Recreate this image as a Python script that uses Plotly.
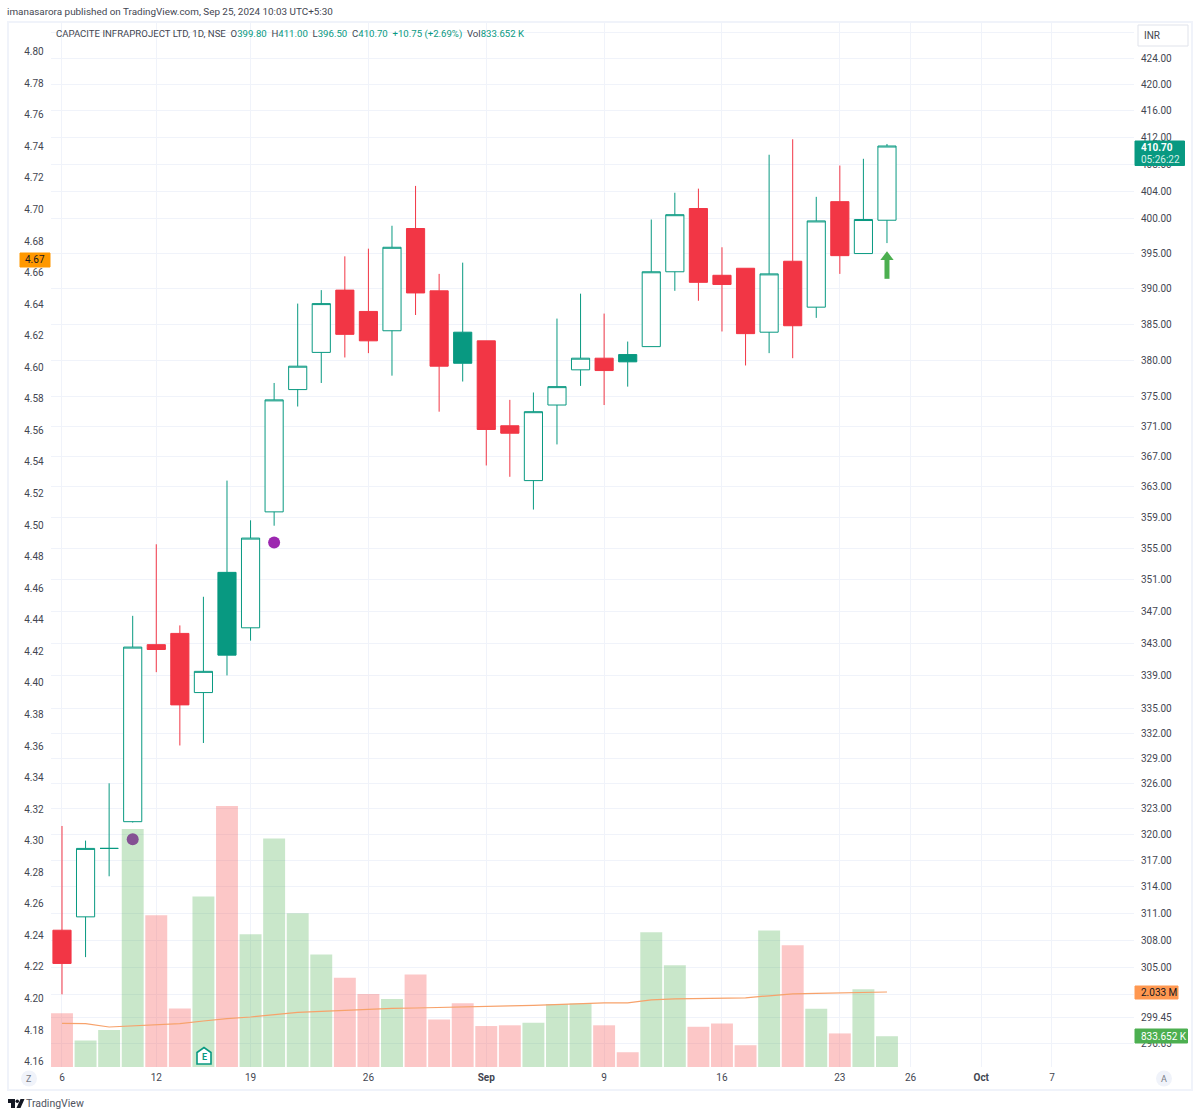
import plotly.graph_objects as go

# daily bars
dates = ["2024-08-06", "2024-08-07", "2024-08-08", "2024-08-09", "2024-08-12", "2024-08-13",
         "2024-08-14", "2024-08-16", "2024-08-19", "2024-08-20", "2024-08-21", "2024-08-22",
         "2024-08-23", "2024-08-26", "2024-08-27", "2024-08-28", "2024-08-29", "2024-08-30",
         "2024-09-02", "2024-09-03", "2024-09-04", "2024-09-05", "2024-09-06", "2024-09-09",
         "2024-09-10", "2024-09-11", "2024-09-12", "2024-09-13", "2024-09-16", "2024-09-17",
         "2024-09-18", "2024-09-19", "2024-09-20", "2024-09-23", "2024-09-24", "2024-09-25"]
future_dates = ["2024-09-26", "2024-09-27", "2024-09-30", "2024-10-01", "2024-10-03", "2024-10-04",
                "2024-10-07", "2024-10-08", "2024-10-09", "2024-10-10"]

opens = [309.1, 310.6, 318.4, 321.5, 342.8, 344.2, 336.9, 351.9, 344.9, 359.7, 376.0, 381.1,
         389.8, 386.8, 384.1, 398.6, 389.7, 383.9, 382.7, 371.1, 363.8, 373.9, 378.7, 380.3,
         380.8, 381.9, 392.4, 401.5, 391.9, 392.9, 383.9, 393.9, 387.4, 402.5, 395.0, 399.8]
highs = [321.0, 319.3, 326.0, 346.4, 355.5, 345.2, 348.8, 363.8, 358.6, 376.9, 387.9, 389.8,
         394.6, 395.7, 399.0, 404.8, 392.1, 393.7, 382.7, 374.6, 375.6, 385.8, 389.3, 386.5,
         382.6, 399.9, 403.8, 404.4, 395.9, 392.9, 409.4, 411.7, 403.2, 407.8, 408.8, 411.0]
lows = [302.0, 306.1, 315.2, 321.4, 339.4, 330.5, 330.8, 339.0, 343.3, 357.9, 373.7, 376.9,
        380.4, 381.0, 377.9, 386.3, 373.0, 377.1, 365.8, 364.3, 360.0, 368.6, 376.5, 373.9,
        376.4, 381.9, 389.7, 388.3, 384.0, 379.3, 381.0, 380.3, 385.9, 392.1, 395.0, 396.5]
closes = [305.4, 318.4, 318.4, 342.5, 342.2, 335.4, 339.5, 341.5, 356.3, 374.6, 379.2, 387.9,
          383.6, 382.7, 395.9, 389.4, 379.2, 379.6, 370.6, 370.1, 373.0, 376.4, 380.3, 378.6,
          379.8, 392.4, 400.6, 390.9, 390.6, 383.7, 392.1, 384.8, 399.7, 394.7, 399.9, 410.7]

volume_m = [1.455, 0.715, 1.003, 6.45, 4.11, 1.583, 4.62, 7.07, 3.60, 6.19, 4.17, 3.05,
            2.42, 1.98, 1.84, 2.51, 1.29, 1.73, 1.11, 1.13, 1.20, 1.71, 1.72, 1.13,
            0.40, 3.65, 2.76, 1.09, 1.18, 0.59, 3.70, 3.30, 1.58, 0.91, 2.11, 0.834]
volume_ma_m = [1.184, 1.176, 1.084, 1.111, 1.149, 1.176, 1.247, 1.312, 1.355, 1.428, 1.482, 1.51,
               1.537, 1.572, 1.591, 1.599, 1.61, 1.618, 1.645, 1.659, 1.672, 1.699, 1.726, 1.74,
               1.74, 1.821, 1.848, 1.856, 1.862, 1.875, 1.93, 1.984, 1.997, 2.011, 2.019, 2.033]

dot_dates = ["2024-08-09", "2024-08-20"]
dot_prices = [319.45, 355.73]
arrow_date = "2024-09-25"
arrow_stem_prices = [391.4, 394.4]
arrow_head_price = 394.5
left_last = 4.67

right_ticks = [428, 424, 420, 416, 412, 408, 404, 400, 395, 390, 385, 380, 375, 371, 367, 363, 359,
               355, 351, 347, 343, 339, 335, 332, 329, 326, 323, 320, 317, 314, 311, 308, 305, 302,
               299.45, 296.65]
hidden_right_ticks = [428, 302]  # gridlines only, their labels sit behind the tags
left_ticks = [4.16, 4.18, 4.20, 4.22, 4.24, 4.26, 4.28, 4.30, 4.32, 4.34, 4.36, 4.38, 4.40, 4.42, 4.44,
              4.46, 4.48, 4.50, 4.52, 4.54, 4.56, 4.58, 4.60, 4.62, 4.64, 4.66, 4.68, 4.70, 4.72, 4.74,
              4.76, 4.78, 4.80]
x_tick_dates = ["2024-08-06", "2024-08-12", "2024-08-19", "2024-08-26", "2024-09-02", "2024-09-09",
                "2024-09-16", "2024-09-23", "2024-09-26", "2024-10-01", "2024-10-07"]
x_tick_labels = ["6", "12", "19", "26", "<b>Sep</b>", "9", "16", "23", "26", "<b>Oct</b>", "7"]

RED = "#f23645"
TEAL = "#089981"
GRID = "#f0f3fa"
TEXT = "#434651"
FONT = "Roboto, Liberation Sans, sans-serif"
W, H = 1200, 1118


def px(x):
    return x / W


def py(y):
    return 1 - y / H


def poly(points):
    return "M" + " L".join(f"{px(x):.5f},{py(y):.5f}" for x, y in points) + " Z"


# hollow candles: filled when close < open, coloured by close vs previous close
hollow, filled_red, filled_teal = [], [], []
for i in range(len(dates)):
    if closes[i] >= opens[i]:
        hollow.append(i)
    elif i > 0 and closes[i] > closes[i - 1]:
        filled_teal.append(i)
    else:
        filled_red.append(i)


def candles(idx, line, fill):
    style = dict(line=dict(color=line, width=1), fillcolor=fill)
    return go.Candlestick(x=[dates[i] for i in idx],
                          open=[opens[i] for i in idx],
                          high=[highs[i] for i in idx],
                          low=[lows[i] for i in idx],
                          close=[closes[i] for i in idx],
                          increasing=style, decreasing=style,
                          hoverinfo="skip", showlegend=False)


fig = go.Figure()
fig.add_trace(candles(hollow, TEAL, "#ffffff"))
fig.add_trace(candles(filled_red, RED, RED))
fig.add_trace(candles(filled_teal, TEAL, TEAL))
fig.add_trace(go.Scatter(x=dot_dates, y=dot_prices, mode="markers",
                         marker=dict(color="#9c27b0", size=12), hoverinfo="skip"))
# buy arrow under the last bar
fig.add_trace(go.Scatter(x=[arrow_date, arrow_date], y=arrow_stem_prices, mode="lines",
                         line=dict(color="#4caf50", width=5), hoverinfo="skip"))
fig.add_trace(go.Scatter(x=[arrow_date], y=[arrow_head_price], mode="markers",
                         marker=dict(color="#4caf50", size=11.5, symbol="triangle-up"), hoverinfo="skip"))

vol_colors = ["rgba(76,175,80,0.3)" if c >= o else "rgba(247,82,82,0.32)" for o, c in zip(opens, closes)]
fig.add_trace(go.Bar(x=dates, y=volume_m, yaxis="y2", marker=dict(color=vol_colors, line_width=0),
                     hoverinfo="skip"))
fig.add_trace(go.Scatter(x=dates, y=volume_ma_m, yaxis="y2", mode="lines",
                         line=dict(color="#f7a26b", width=1.2), hoverinfo="skip"))
# keeps the left scale on the page
fig.add_trace(go.Scatter(x=[dates[-1]], y=[left_last], yaxis="y3", mode="markers",
                         marker=dict(opacity=0), hoverinfo="skip"))

shapes = [dict(type="rect", xref="paper", yref="paper", x0=px(8), x1=px(1192), y0=py(1090), y1=py(22),
               line=dict(color=GRID, width=2), layer="below")]


def tag(x0, y0, x1, y1, color, border=None):
    shapes.append(dict(type="rect", xref="paper", yref="paper", x0=px(x0), x1=px(x1), y0=py(y1), y1=py(y0),
                       fillcolor=color, line=dict(color=border or color, width=1), layer="above"))


tag(1138, 25, 1188, 46, "#ffffff", "#e0e3eb")
tag(1135, 141, 1184.5, 165.5, TEAL)
tag(1135, 986, 1178, 999, "#ff9850")
tag(1135, 1029, 1187.5, 1043, "#4caf50")
tag(20, 253, 50, 267, "#ff9800")

for cx in (29, 1164):
    shapes.append(dict(type="circle", xref="paper", yref="paper", x0=px(cx - 8), x1=px(cx + 8),
                       y0=py(1086.5), y1=py(1070.5), fillcolor=GRID, line_width=0, layer="above"))

# earnings flag
shapes.append(dict(type="path", xref="paper", yref="paper", layer="above",
                   path=poly([(197, 1052.5), (204, 1047.5), (211, 1052.5), (211, 1064), (197, 1064)]),
                   fillcolor="#ffffff", line=dict(color=TEAL, width=1.6)))
# TradingView logo
for pts in ([(8, 1099), (15, 1099), (15, 1108), (11, 1108), (11, 1103), (8, 1103)],
            [(24.5, 1099), (20.5, 1108), (16.5, 1108), (20.5, 1099)]):
    shapes.append(dict(type="path", xref="paper", yref="paper", layer="above", path=poly(pts),
                       fillcolor="#131722", line_width=0))
shapes.append(dict(type="circle", xref="paper", yref="paper", layer="above", x0=px(15.5), x1=px(19), y0=py(1103),
                   y1=py(1099.5), fillcolor="#131722", line_width=0))


def note(x, y, text, size=10, color=TEXT, anchor="left"):
    return dict(xref="paper", yref="paper", x=px(x), y=py(y), text=text, showarrow=False, xanchor=anchor,
                yanchor="middle", font=dict(family=FONT, size=size, color=color), align="left",
                borderpad=0, borderwidth=0)


def teal(s):
    return f'<span style="color:{TEAL}">{s}</span>'


annotations = [
    note(7, 12, "imanasarora published on TradingView.com, Sep 25, 2024 10:03 UTC+5:30", 9.9),
    note(56, 34, "CAPACITE INFRAPROJECT LTD, 1D, NSE  O" + teal("399.80") + "  H" + teal("411.00") + "  L"
         + teal("396.50") + "  C" + teal("410.70") + "  " + teal("+10.75 (+2.69%)") + "  Vol" + teal("833.652 K"), 9.6),
    note(1144, 36, "INR", 10),
    note(1141, 147, "<b>410.70</b>", 10, "#ffffff"),
    note(1141, 159, "05:26:22", 10, "#d5efe9"),
    note(1141, 992.5, "2.033 M", 10, "#131722"),
    note(1141, 1036, "833.652 K", 10, "#ffffff"),
    note(35, 260, "4.67", 10, "#131722", "center"),
    note(29, 1078.5, "Z", 9, "#787b86", "center"),
    note(1164, 1078.5, "A", 9, "#787b86", "center"),
    note(204, 1057, "<b>E</b>", 9, TEAL, "center"),
    note(26, 1103.5, "TradingView", 10.5, "#50535e"),
]

PLOT_TOP, PLOT_BOTTOM = 22, 1067
fig.update_layout(
    width=W, height=H, margin=dict(l=0, r=0, t=0, b=0),
    paper_bgcolor="#ffffff", plot_bgcolor="#ffffff",
    showlegend=False, hovermode=False, boxgap=0.23, boxgroupgap=0, bargap=0.07,
    font=dict(family=FONT, size=10, color=TEXT),
    shapes=shapes, annotations=annotations,
    xaxis=dict(type="category", categoryorder="array", categoryarray=dates + future_dates,
               domain=[px(50.7), px(1134)], range=[-0.479, 45.48], rangeslider=dict(visible=False),
               tickmode="array", tickvals=x_tick_dates, ticktext=x_tick_labels, tickangle=0,
               showgrid=True, gridcolor=GRID, gridwidth=1, showline=False, zeroline=False, ticks="",
               ticklabelstandoff=3, tickfont=dict(size=10, color=TEXT)),
    yaxis=dict(type="log", side="right", domain=[py(PLOT_BOTTOM), py(PLOT_TOP)], range=[2.46857, 2.63304],
               tickmode="array", tickvals=right_ticks,
               ticktext=["" if t in hidden_right_ticks else f"{t:.2f}" for t in right_ticks],
               showgrid=True, gridcolor=GRID, gridwidth=1, showline=False, zeroline=False, ticks="",
               ticklabelstandoff=6, tickfont=dict(size=10, color=TEXT)),
    yaxis2=dict(overlaying="y", range=[0, 28.32], visible=False),
    yaxis3=dict(overlaying="y", side="left", anchor="x", range=[4.1566, 4.8188],
                tickmode="array", tickvals=left_ticks, ticktext=[f"{t:.2f}" for t in left_ticks],
                showgrid=False, showline=False, zeroline=False, ticks="", ticklabelstandoff=6,
                tickfont=dict(size=10, color=TEXT)),
)

fig.write_html("out.html", config=dict(displayModeBar=False), post_script="document.body.style.margin='0';")
